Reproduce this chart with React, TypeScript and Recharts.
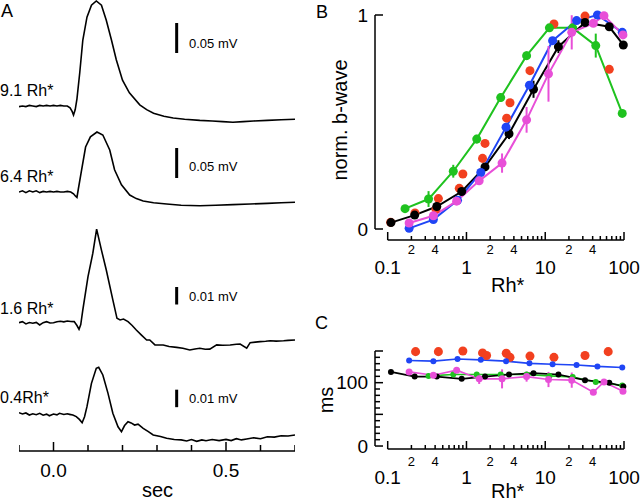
import {
  ComposedChart,
  LineChart,
  Line,
  Scatter,
  XAxis,
  YAxis,
  ReferenceLine,
  ErrorBar,
} from "recharts";

const FONT = '"Liberation Sans", Arial, Helvetica, sans-serif';

// ---- panel A: b-wave traces, [sec, mV] ----
const trace91: [number, number][] = [
  [-0.1, -0.001], [-0.09, 0.0], [-0.08, -0.001], [-0.07, 0.001], [-0.06, 0.0],
  [-0.05, -0.001], [-0.04, 0.001], [-0.03, 0.0], [-0.02, 0.001], [-0.01, 0.0],
  [0.0, 0.001], [0.01, 0.0], [0.02, 0.001], [0.03, 0.0], [0.04, 0.0],
  [0.048, -0.003], [0.054, -0.009], [0.058, -0.015], [0.063, -0.006], [0.068, 0.012],
  [0.076, 0.055], [0.085, 0.11], [0.097, 0.148], [0.11, 0.168], [0.124, 0.175],
  [0.139, 0.168], [0.153, 0.143], [0.168, 0.11], [0.182, 0.077], [0.2, 0.043],
  [0.22, 0.022], [0.25, 0.002], [0.27, -0.006], [0.29, -0.012], [0.32, -0.017],
  [0.347, -0.02], [0.38, -0.022], [0.424, -0.024], [0.46, -0.025], [0.49, -0.026],
  [0.52, -0.027], [0.55, -0.026], [0.58, -0.025], [0.62, -0.024], [0.66, -0.023],
  [0.7, -0.022],
];

const trace64: [number, number][] = [
  [-0.1, 0.0], [-0.09, 0.002], [-0.08, -0.001], [-0.07, 0.002], [-0.06, 0.0],
  [-0.05, 0.002], [-0.04, -0.001], [-0.03, 0.001], [-0.02, 0.0], [-0.01, 0.001],
  [0.0, 0.0], [0.01, 0.001], [0.02, 0.0], [0.03, 0.0], [0.04, 0.001],
  [0.05, 0.0], [0.058, -0.003], [0.064, -0.007], [0.068, -0.009], [0.072, 0.005],
  [0.08, 0.032], [0.093, 0.075], [0.107, 0.092], [0.126, 0.1], [0.143, 0.095],
  [0.163, 0.07], [0.177, 0.037], [0.197, 0.012], [0.221, -0.005], [0.24, -0.011],
  [0.26, -0.015], [0.29, -0.018], [0.328, -0.02], [0.37, -0.022], [0.424, -0.023],
  [0.47, -0.022], [0.52, -0.021], [0.57, -0.02], [0.62, -0.019], [0.66, -0.018],
  [0.7, -0.017],
];

const trace16: [number, number][] = [
  [-0.1, -0.0004], [-0.09, 0.0002], [-0.08, -0.0011], [-0.07, -0.0003], [-0.06, -0.0007],
  [-0.05, -0.0002], [-0.04, -0.0017], [-0.03, -0.0004], [-0.02, 0.0002], [-0.01, -0.0006],
  [0.0, -0.0004], [0.01, 0.0001], [0.02, 0.0004], [0.03, 0.0001], [0.04, 0.0006],
  [0.05, 0.0003], [0.06, 0.0002], [0.068, -0.002], [0.074, -0.0042], [0.079, -0.0015],
  [0.085, 0.0069], [0.1, 0.0259], [0.114, 0.0393], [0.125, 0.0531], [0.139, 0.0411],
  [0.153, 0.0297], [0.172, 0.0126], [0.184, 0.0021], [0.193, 0.0012], [0.203, 0.0017],
  [0.216, 0.0002], [0.228, -0.002], [0.24, -0.0046], [0.255, -0.0075], [0.27, -0.0103],
  [0.279, -0.0103], [0.294, -0.0131], [0.318, -0.0131], [0.335, -0.014], [0.357, -0.0145],
  [0.375, -0.015], [0.395, -0.016], [0.41, -0.0154], [0.424, -0.015], [0.44, -0.0156],
  [0.453, -0.0155], [0.473, -0.0131], [0.49, -0.0133], [0.512, -0.0131], [0.53, -0.0127],
  [0.541, -0.0126], [0.56, -0.015], [0.57, -0.0118], [0.585, -0.0115], [0.599, -0.0112],
  [0.615, -0.011], [0.628, -0.0107], [0.645, -0.0109], [0.667, -0.0107], [0.68, -0.0105],
  [0.7, -0.0103],
];

const trace04: [number, number][] = [
  [-0.1, 0.0003], [-0.09, -0.0004], [-0.08, 0.0002], [-0.07, -0.001], [-0.06, -0.0003],
  [-0.05, -0.0008], [-0.04, 0.0], [-0.03, -0.0011], [-0.02, -0.0005], [-0.012, -0.0014],
  [0.0, -0.0004], [0.01, -0.0009], [0.0174, 0.0], [0.03, -0.0007], [0.04, -0.0003],
  [0.0465, -0.0006], [0.056, -0.001], [0.066, -0.0019], [0.075, -0.0035], [0.083, -0.0054],
  [0.09, -0.002], [0.097, 0.0038], [0.11, 0.0171], [0.124, 0.0257], [0.131, 0.0263],
  [0.143, 0.0219], [0.158, 0.0114], [0.172, 0.0], [0.187, -0.0077], [0.197, -0.0105],
  [0.206, -0.007], [0.216, -0.0048], [0.225, -0.0055], [0.235, -0.0067], [0.245, -0.0062],
  [0.26, -0.0086], [0.275, -0.0105], [0.289, -0.0124], [0.31, -0.0133], [0.328, -0.0143],
  [0.35, -0.015], [0.37, -0.0152], [0.386, -0.0158], [0.4, -0.015], [0.415, -0.016],
  [0.43, -0.0152], [0.442, -0.0157], [0.46, -0.015], [0.48, -0.0156], [0.5, -0.0149],
  [0.515, -0.0156], [0.53, -0.0145], [0.545, -0.0152], [0.56, -0.0147], [0.58, -0.014],
  [0.6, -0.0145], [0.62, -0.0134], [0.64, -0.0136], [0.66, -0.0128], [0.68, -0.013],
  [0.7, -0.0124],
];

const timeTicks = [-0.1, 0, 0.1, 0.2, 0.3, 0.4, 0.5, 0.6, 0.7];

// ---- panels B and C: intensity (Rh*) ----
const rhTicks = [
  0.1, 0.2, 0.3, 0.4, 0.5, 0.6, 0.7, 0.8, 0.9,
  1, 2, 3, 4, 5, 6, 7, 8, 9,
  10, 20, 30, 40, 50, 60, 70, 80, 90, 100,
];
const rhDecadeLabels = [0.1, 1, 10, 100];
const rhSmallLabels = [0.2, 0.4, 2, 4, 20, 40];

const blackRh = [0.11, 0.22, 0.42, 0.87, 1.72, 3.47, 7.1, 14.7, 32, 65, 98];
const blackNorm = [0.03, 0.065, 0.105, 0.175, 0.29, 0.445, 0.653, 0.852, 0.965, 0.945, 0.86];
const blackNormErr = [0, 0, 0.02, 0, 0, 0.025, 0.04, 0.03, 0, 0, 0];
const blackMs = [117, 109.6, 109.6, 106, 109.6, 113, 115, 113, 104, 100, 94];

const greenRhB = [0.166, 0.33, 0.68, 1.35, 2.72, 5.8, 11.3, 22.3, 43.8, 95];
const greenNorm = [0.095, 0.14, 0.27, 0.42, 0.614, 0.81, 0.94, 0.94, 0.857, 0.54];
const greenNormErr = [0, 0.037, 0.03, 0.02, 0.02, 0.02, 0, 0, 0.056, 0];
const greenRhC = [0.33, 0.68, 1.35, 2.72, 5.8, 11.3, 22.3, 43.8, 95];
const greenMs = [110.7, 113, 113, 113, 113, 110.7, 109, 101, 95.7];

const blueRh = [0.187, 0.38, 0.77, 1.52, 3.18, 6.3, 12.4, 25, 46, 95];
const blueNorm = [0.003, 0.044, 0.134, 0.264, 0.476, 0.672, 0.88, 0.974, 1.0, 0.919];
const blueMs = [135, 134, 137.4, 136, 134, 130.5, 129, 128, 125.7, 124];

const magentaRh = [0.187, 0.38, 0.75, 1.45, 2.83, 5.8, 11, 21.7, 40.8, 55.7, 97];
const magentaNorm = [0.028, 0.062, 0.13, 0.225, 0.308, 0.51, 0.725, 0.919, 0.961, 0.997, 0.907];
const magentaNormErr = [0, 0, 0, 0, 0.045, 0.06, 0.13, 0.08, 0, 0, 0];
const magentaMs = [117, 111.8, 119.8, 106, 106, 109.6, 105, 104, 85, 101, 86.6];
const magentaMsErr = [0, 0, 0, 8, 15, 8, 12, 12, 0, 0, 0];

const redRhB = [0.109, 0.222, 0.41, 0.44, 0.81, 0.9, 1.6, 1.72, 3.24, 3.57, 6.4, 12.9, 32, 65];
const redNorm = [0.031, 0.075, 0.093, 0.142, 0.19, 0.257, 0.33, 0.4, 0.518, 0.59, 0.74, 0.958, 0.995, 0.746];
const redRhC = [0.226, 0.44, 0.9, 1.6, 1.8, 3.2, 3.57, 6.4, 12.9, 32, 63];
const redMs = [149, 149, 150, 147, 143, 146.5, 140, 142, 140, 143, 149];

const msTicks = [0, 10, 20, 30, 40, 50, 60, 70, 80, 90, 100, 110, 120, 130, 140, 150];

const BLACK = "#000000";
const GREEN = "#1fc21f";
const BLUE = "#1f45f5";
const MAGENTA = "#e84fd8";
const RED = "#f2401f";

const rows = (xs: number[], ys: number[], es?: number[]) =>
  xs.map((x, i) => ({ x, y: ys[i], e: es ? es[i] : 0 }));

// y-axis line sits left of 0.1 on the log axis
const Y_AXIS_RH = 0.069;

function Txt({ left, top, size, children, rotate }: any) {
  return (
    <div
      style={{
        position: "absolute",
        left,
        top,
        fontSize: size,
        lineHeight: 1,
        whiteSpace: "nowrap",
        transform: rotate ? "translate(-50%, -50%) rotate(-90deg)" : undefined,
      }}
    >
      {children}
    </div>
  );
}

function TimeTick({ x, y, payload }: any) {
  const v = payload.value;
  const major = v === 0 || v === 0.5;
  return (
    <g>
      <line x1={x} x2={x} y1={y} y2={y - (major ? 9 : 6)} stroke="#000" strokeWidth={1.5} />
      {major && (
        <text x={x} y={y + 19} dy="0.35em" textAnchor="middle" fontSize={19} fontFamily={FONT}>
          {v.toFixed(1)}
        </text>
      )}
    </g>
  );
}

function LogTick({ x, y, payload, smallOff, bigOff }: any) {
  const v = payload.value;
  const decade = rhDecadeLabels.includes(v);
  const small = rhSmallLabels.includes(v);
  return (
    <g>
      <line x1={x} x2={x} y1={y} y2={y - (decade ? 8 : 4)} stroke="#000" strokeWidth={1.5} />
      {decade && (
        <text x={x} y={y + bigOff} dy="0.35em" textAnchor="middle" fontSize={19} fontFamily={FONT}>
          {String(v)}
        </text>
      )}
      {small && (
        <text x={x} y={y + smallOff} dy="0.35em" textAnchor="middle" fontSize={13} fontFamily={FONT}>
          {v < 1 ? "" + Math.round(v * 10) : v >= 10 ? "" + v / 10 : "" + v}
        </text>
      )}
    </g>
  );
}

function ValueTick({ x, y, payload, labels, majors, plotLeft }: any) {
  const v = payload.value;
  const ax = plotLeft - 12.7;
  const major = majors.includes(v);
  return (
    <g>
      <line x1={ax} x2={ax + (major ? 8 : 5)} y1={y} y2={y} stroke="#000" strokeWidth={1.5} />
      {labels.includes(v) && (
        <text x={ax - 7} y={y} dy="0.35em" textAnchor="end" fontSize={19} fontFamily={FONT}>
          {String(v)}
        </text>
      )}
    </g>
  );
}

function Trace({ trace, top, height, domain, bar, axis }: any) {
  const data = trace.map(([t, v]: [number, number]) => ({ t, v }));
  return (
    <div style={{ position: "absolute", left: 19, top }}>
      <LineChart
        width={276}
        height={height + (axis ? 51 : 0)}
        data={data}
        margin={{ top: 0, right: 0, bottom: 0, left: 0 }}
      >
        <XAxis
          type="number"
          dataKey="t"
          domain={[-0.1, 0.7]}
          ticks={timeTicks}
          interval={0}
          hide={!axis}
          height={51}
          tickSize={0}
          tickMargin={0}
          axisLine={{ stroke: "#000", strokeWidth: 1.5 }}
          tick={<TimeTick />}
          allowDataOverflow
        />
        <YAxis type="number" domain={domain} hide allowDataOverflow />
        <ReferenceLine
          segment={[{ x: 0.357, y: bar[0] }, { x: 0.357, y: bar[1] }]}
          stroke="#000"
          strokeWidth={3}
          ifOverflow="visible"
        />
        <Line
          type="linear"
          dataKey="v"
          stroke="#000"
          strokeWidth={1.6}
          dot={false}
          isAnimationActive={false}
        />
      </LineChart>
    </div>
  );
}

function series(data: any[], color: string, r: number, width: number, withErr: boolean) {
  return (
    <Line
      data={data}
      dataKey="y"
      type="linear"
      stroke={color}
      strokeWidth={width}
      dot={{ r, fill: color, stroke: color, strokeWidth: 0 }}
      isAnimationActive={false}
    >
      {withErr && <ErrorBar dataKey="e" direction="y" width={0} stroke={color} strokeWidth={2} />}
    </Line>
  );
}

// plot area of B and C starts 57.7px into a chart placed at x=330
const PLOT_LEFT = 57.7;

export default function App() {
  return (
    <div
      style={{
        position: "absolute",
        left: 0,
        top: 0,
        width: 640,
        height: 502,
        background: "#fff",
        fontFamily: FONT,
        color: "#000",
        overflow: "hidden",
      }}
    >
      {/* panel A */}
      <Trace trace={trace91} top={0} height={130} domain={[-0.04, 0.17667]} bar={[0.0883, 0.1383]} />
      <Trace trace={trace64} top={125} height={90} domain={[-0.03833, 0.11167]} bar={[0.0233, 0.0733]} />
      <Trace trace={trace16} top={222} height={138} domain={[-0.02171, 0.05714]} bar={[0.01, 0.02]} />
      <Trace trace={trace04} top={355} height={96} domain={[-0.02154, 0.03331]} bar={[0.0035, 0.0135]} axis />

      {/* panel B */}
      <div style={{ position: "absolute", left: 330, top: 0 }}>
        <ComposedChart width={310} height={290} margin={{ top: 15, right: 16, bottom: 0, left: PLOT_LEFT - 1 }}>
          <XAxis
            type="number"
            dataKey="x"
            scale="log"
            domain={[0.1, 100]}
            ticks={rhTicks}
            interval={0}
            height={50}
            tickSize={0}
            tickMargin={0}
            axisLine={{ stroke: "#000", strokeWidth: 1.5 }}
            tick={(p: any) => <LogTick {...p} smallOff={9} bigOff={27} />}
          />
          <YAxis
            type="number"
            domain={[-0.0514, 1]}
            ticks={[0, 1]}
            interval={0}
            width={1}
            axisLine={false}
            tickSize={0}
            tickMargin={0}
            tick={(p: any) => <ValueTick {...p} plotLeft={PLOT_LEFT} labels={[0, 1]} majors={[0, 1]} />}
          />
          <ReferenceLine
            segment={[{ x: Y_AXIS_RH, y: 0 }, { x: Y_AXIS_RH, y: 1 }]}
            stroke="#000"
            strokeWidth={1.5}
            ifOverflow="visible"
          />
          <Scatter data={rows(redRhB, redNorm)} dataKey="y" fill={RED} isAnimationActive={false} />
          {series(rows(greenRhB, greenNorm, greenNormErr), GREEN, 4.5, 2, true)}
          {series(rows(blackRh, blackNorm, blackNormErr), BLACK, 4.5, 2, true)}
          {series(rows(blueRh, blueNorm), BLUE, 4.5, 2, false)}
          {series(rows(magentaRh, magentaNorm, magentaNormErr), MAGENTA, 4.5, 2, true)}
        </ComposedChart>
      </div>

      {/* panel C */}
      <div style={{ position: "absolute", left: 330, top: 300 }}>
        <ComposedChart width={310} height={202} margin={{ top: 51, right: 16, bottom: 0, left: PLOT_LEFT - 1 }}>
          <XAxis
            type="number"
            dataKey="x"
            scale="log"
            domain={[0.1, 100]}
            ticks={rhTicks}
            interval={0}
            height={53}
            tickSize={0}
            tickMargin={0}
            axisLine={{ stroke: "#000", strokeWidth: 1.5 }}
            tick={(p: any) => <LogTick {...p} smallOff={12} bigOff={28} />}
          />
          <YAxis
            type="number"
            domain={[-4.7, 150]}
            ticks={msTicks}
            interval={0}
            width={1}
            axisLine={false}
            tickSize={0}
            tickMargin={0}
            tick={(p: any) => (
              <ValueTick {...p} plotLeft={PLOT_LEFT} labels={[0, 100]} majors={[0, 50, 100, 150]} />
            )}
          />
          <ReferenceLine
            segment={[{ x: Y_AXIS_RH, y: 0 }, { x: Y_AXIS_RH, y: 150 }]}
            stroke="#000"
            strokeWidth={1.5}
            ifOverflow="visible"
          />
          <Scatter data={rows(redRhC, redMs)} dataKey="y" fill={RED} isAnimationActive={false} />
          {series(rows(greenRhC, greenMs), GREEN, 3, 1.6, false)}
          {series(rows(blackRh, blackMs), BLACK, 3, 1.6, false)}
          {series(rows(blueRh, blueMs), BLUE, 3, 1.6, false)}
          {series(rows(magentaRh, magentaMs, magentaMsErr), MAGENTA, 3.5, 1.6, true)}
        </ComposedChart>
      </div>

      {/* text */}
      <Txt left={1} top={2} size={18}>A</Txt>
      <Txt left={316} top={3} size={18}>B</Txt>
      <Txt left={315} top={314} size={18}>C</Txt>

      <Txt left={0} top={83} size={16}>9.1 Rh*</Txt>
      <Txt left={0} top={169} size={16}>6.4 Rh*</Txt>
      <Txt left={0} top={301} size={16}>1.6 Rh*</Txt>
      <Txt left={0} top={390} size={16}>0.4Rh*</Txt>

      <Txt left={189} top={37} size={13}>0.05 mV</Txt>
      <Txt left={189} top={160} size={13}>0.05 mV</Txt>
      <Txt left={189} top={290} size={13}>0.01 mV</Txt>
      <Txt left={189} top={392} size={13}>0.01 mV</Txt>

      <Txt left={142} top={480} size={20}>sec</Txt>
      <Txt left={491} top={275} size={20}>Rh*</Txt>
      <Txt left={491} top={481} size={20}>Rh*</Txt>
      <Txt left={340} top={120} size={20} rotate>norm. b-wave</Txt>
      <Txt left={326} top={400} size={20} rotate>ms</Txt>
    </div>
  );
}
